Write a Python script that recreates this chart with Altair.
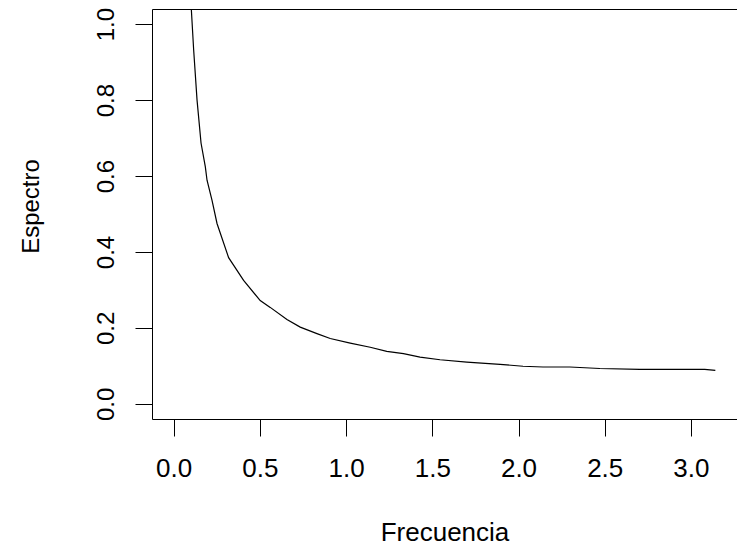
import altair as alt
import pandas as pd

# Values
freq = [0.094, 0.1026, 0.116, 0.1356, 0.1587, 0.1837, 0.1935, 0.2225, 0.2514, 0.3187,
        0.4056, 0.502, 0.560, 0.657, 0.734, 0.831, 0.908, 1.024, 1.140, 1.236,
        1.333, 1.429, 1.545, 1.700, 1.893, 2.026, 2.142, 2.298, 2.472, 2.704,
        2.994, 3.08, 3.1416]
spec = [1.35, 1.038, 0.932, 0.800, 0.687, 0.624, 0.589, 0.536, 0.475, 0.385,
        0.325, 0.272, 0.254, 0.222, 0.202, 0.185, 0.172, 0.160, 0.149, 0.138,
        0.132, 0.123, 0.116, 0.110, 0.104, 0.099, 0.097, 0.097, 0.093, 0.0905,
        0.0905, 0.0905, 0.088]
x_ticks = [0.0, 0.5, 1.0, 1.5, 2.0, 2.5, 3.0]
y_ticks = [0.0, 0.2, 0.4, 0.6, 0.8, 1.0]

df = pd.DataFrame({"Frecuencia": freq, "Espectro": spec})

FONT = "Liberation Sans"

x_axis = alt.Axis(
    values=x_ticks, format=".1f", grid=False, domain=False,
    tickSize=17, tickColor="black", tickWidth=1,
    labelFont=FONT, labelFontSize=26, labelColor="black",
    labelBaseline="alphabetic", labelPadding=40, labelFlush=False,
    title="Frecuencia", titleFont=FONT, titleFontSize=26,
    titleFontWeight="normal", titleColor="black",
    titleBaseline="alphabetic", titleAlign="center",
    titleX=292.5, titleY=121,
)
y_axis = alt.Axis(
    values=y_ticks, format=".1f", grid=False, domain=False,
    tickSize=17, tickColor="black", tickWidth=1,
    labelFont=FONT, labelFontSize=24, labelColor="black",
    labelAngle=270, labelAlign="center", labelBaseline="alphabetic",
    labelPadding=22, labelFlush=False,
    title="Espectro", titleFont=FONT, titleFontSize=24,
    titleFontWeight="normal", titleColor="black",
    titleAngle=270, titleBaseline="alphabetic", titleAlign="center",
    titleX=-114, titleY=197,
)

chart = alt.Chart(df).mark_line(color="black", strokeWidth=1.2, clip=True).encode(
    x=alt.X("Frecuencia:Q", scale=alt.Scale(domain=[-0.12566, 3.26726], nice=False, zero=False), axis=x_axis),
    y=alt.Y("Espectro:Q", scale=alt.Scale(domain=[-0.04, 1.04], nice=False, zero=False), axis=y_axis),
    order=alt.Order("Frecuencia:Q"),
).properties(
    width=585, height=410,
    autosize=alt.AutoSizeParams(type="none"),
    padding={"left": 152, "top": 9, "right": 0, "bottom": 129},
    background="white",
).configure_view(stroke="black", strokeWidth=1)

chart.save("out.html", embed_options={"renderer": "svg", "actions": False})
